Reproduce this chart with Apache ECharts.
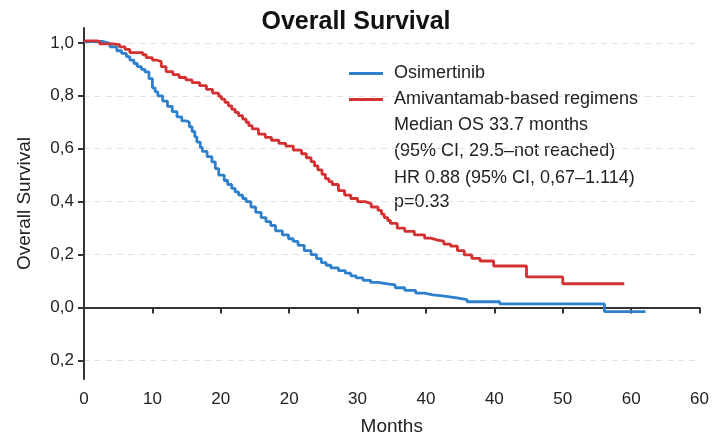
<!DOCTYPE html>
<html>
<head>
<meta charset="utf-8">
<title>Overall Survival</title>
<script src="https://cdn.jsdelivr.net/npm/echarts@6/dist/echarts.min.js"></script>
<style>
html, body { margin: 0; padding: 0; background: #fff; }
#chart { width: 712px; height: 441px; }
</style>
</head>
<body>
<div id="chart"></div>
<script>
// x is in axis units (one tick = 10), labels come from xTickLabels
const xTickLabels = ['0', '10', '20', '20', '30', '40', '40', '50', '60', '60'];
const yTickValues = [-0.2, 0, 0.2, 0.4, 0.6, 0.8, 1.0];

const osiX = [0, 2.8, 3.8, 4.8, 5.5, 6.2, 6.7, 7.3, 7.8, 8.4, 8.9, 9.5, 10.0, 10.4, 10.8, 11.5, 12.2, 12.9, 13.6, 14.3, 15.0, 15.4, 15.8, 16.2, 16.5, 17.0, 17.3, 18.0, 18.7, 19.2, 19.7, 20.5, 21.0, 21.6, 22.1, 22.6, 23.2, 23.7, 24.4, 25.1, 25.9, 26.6, 27.3, 28.0, 29.0, 29.9, 30.6, 31.3, 32.2, 33.2, 34.0, 34.7, 35.4, 36.1, 37.2, 38.2, 39.0, 39.8, 40.8, 41.9, 43.0, 44.4, 45.5, 46.9, 48.5, 49.8, 51.0, 52.7, 54.5, 56.0, 60.8, 76.1, 82.1];
const osiY = [1.005, 0.998, 0.985, 0.97, 0.96, 0.948, 0.935, 0.922, 0.91, 0.9, 0.89, 0.865, 0.83, 0.815, 0.80, 0.78, 0.76, 0.74, 0.72, 0.705, 0.70, 0.683, 0.665, 0.645, 0.625, 0.605, 0.59, 0.57, 0.55, 0.525, 0.50, 0.48, 0.465, 0.45, 0.437, 0.425, 0.412, 0.40, 0.38, 0.36, 0.34, 0.325, 0.31, 0.29, 0.275, 0.26, 0.25, 0.235, 0.215, 0.20, 0.185, 0.17, 0.16, 0.15, 0.14, 0.13, 0.12, 0.112, 0.103, 0.095, 0.09, 0.086, 0.075, 0.065, 0.055, 0.048, 0.043, 0.037, 0.03, 0.022, 0.014, -0.015, -0.015];

const amiX = [0, 1.9, 2.3, 4.2, 5.2, 6.0, 6.7, 8.6, 9.1, 10.0, 10.6, 11.3, 12.0, 13.0, 13.9, 14.9, 15.8, 16.9, 17.9, 18.8, 19.7, 20.1, 20.6, 21.1, 21.6, 22.1, 22.6, 23.2, 23.7, 24.1, 24.6, 25.5, 26.5, 27.4, 28.5, 29.5, 30.6, 31.8, 32.5, 33.2, 33.7, 34.2, 34.8, 35.3, 35.8, 36.3, 37.2, 38.1, 39.0, 40.0, 41.1, 42.0, 43.0, 43.5, 43.9, 44.4, 44.8, 45.8, 46.9, 48.3, 49.8, 50.7, 51.7, 52.6, 53.6, 54.6, 55.6, 56.7, 57.9, 59.9, 64.7, 70.0, 79.0];
const amiY = [1.007, 1.005, 0.996, 0.993, 0.985, 0.975, 0.963, 0.955, 0.944, 0.935, 0.929, 0.91, 0.891, 0.88, 0.869, 0.86, 0.85, 0.838, 0.824, 0.81, 0.798, 0.787, 0.775, 0.762, 0.749, 0.737, 0.725, 0.712, 0.70, 0.687, 0.675, 0.655, 0.643, 0.632, 0.62, 0.61, 0.595, 0.581, 0.566, 0.551, 0.535, 0.52, 0.503, 0.487, 0.476, 0.465, 0.442, 0.425, 0.412, 0.40, 0.393, 0.38, 0.367, 0.353, 0.34, 0.329, 0.318, 0.30, 0.288, 0.275, 0.262, 0.255, 0.251, 0.24, 0.232, 0.215, 0.199, 0.186, 0.176, 0.157, 0.116, 0.09, 0.09];

const notes = ['Median OS 33.7 months', '(95% CI, 29.5\u2013not reached)', 'HR 0.88 (95% CI, 0,67\u20131.114)', 'p=0.33'];

const font = '"Liberation Sans", Arial, Helvetica, sans-serif';
const zip = (xs, ys) => xs.map((x, i) => [x, ys[i]]);

const chart = echarts.init(document.getElementById('chart'));
const noteTops = [125, 151, 178, 202];

chart.setOption({
    animation: false,
    textStyle: { fontFamily: font },
    title: {
        text: 'Overall Survival',
        left: 'center',
        top: 5,
        textStyle: { fontSize: 25, fontWeight: 'bold', color: '#111', fontFamily: font }
    },
    legend: {
        orient: 'vertical',
        left: 349,
        top: 63,
        padding: 0,
        icon: 'rect',
        itemWidth: 34,
        itemHeight: 3,
        itemGap: 5,
        textStyle: { fontSize: 18, color: '#222', lineHeight: 21, padding: [0, 0, 0, 6] },
        data: ['Osimertinib', 'Amivantamab-based regimens']
    },
    graphic: notes.map((t, i) => ({
        type: 'text',
        x: 394,
        y: noteTops[i],
        style: { text: t, fontSize: 18, fontFamily: font, fill: '#222', verticalAlign: 'middle' }
    })),
    grid: { left: 84, right: 7, top: 28, bottom: 59 },
    xAxis: {
        type: 'value',
        min: 0,
        max: 90,
        interval: 10,
        name: 'Months',
        nameLocation: 'middle',
        nameGap: 38,
        nameTextStyle: { fontSize: 19, color: '#222' },
        axisLine: { lineStyle: { color: '#333', width: 2 } },
        axisTick: { length: 6, lineStyle: { color: '#333', width: 2 } },
        axisLabel: {
            fontSize: 17, color: '#222', margin: 12,
            formatter: v => xTickLabels[Math.round(v / 10)]
        },
        splitLine: { show: false }
    },
    yAxis: {
        type: 'value',
        min: -0.2697,
        max: 1.056,
        name: 'Overall Survival',
        nameLocation: 'middle',
        nameGap: 50,
        nameTextStyle: { fontSize: 19, color: '#222' },
        axisLine: { show: true, lineStyle: { color: '#333', width: 2 } },
        axisTick: { show: true, length: 6, customValues: yTickValues, lineStyle: { color: '#333', width: 2 } },
        axisLabel: {
            fontSize: 17, color: '#222', margin: 10,
            customValues: yTickValues,
            formatter: v => Math.abs(v).toFixed(1).replace('.', ',')
        },
        splitLine: { show: true, lineStyle: { color: '#e2e2e2', type: [6, 5], width: 1 } }
    },
    series: [
        {
            name: 'Osimertinib',
            type: 'line',
            step: 'end',
            symbol: 'none',
            data: zip(osiX, osiY),
            lineStyle: { color: '#2e80cc', width: 2.8 },
            itemStyle: { color: '#2e80cc' }
        },
        {
            name: 'Amivantamab-based regimens',
            type: 'line',
            step: 'end',
            symbol: 'none',
            data: zip(amiX, amiY),
            lineStyle: { color: '#d33131', width: 2.8 },
            itemStyle: { color: '#d33131' }
        }
    ]
});

window.addEventListener('resize', () => {
    chart.resize();
});
</script>
</body>
</html>
